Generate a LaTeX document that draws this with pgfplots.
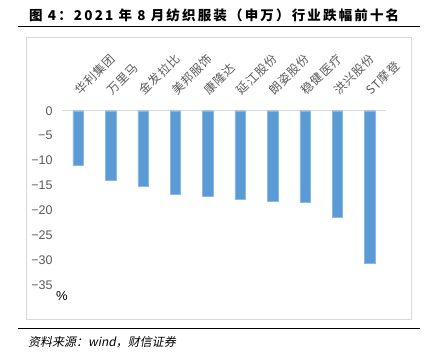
\documentclass[border=0pt]{standalone}
\usepackage{pgfplots}
\pgfplotsset{compat=1.18}
\usepackage{fontspec}
\setmainfont{Liberation Sans}
\newfontfamily\cjk{Noto Sans CJK SC}
\newfontfamily\cjkit[FakeSlant=0.2]{Noto Sans CJK SC}
\newfontfamily\cjksp[LetterSpace=8]{Noto Sans CJK SC}
\newfontfamily\cjktitle[LetterSpace=16]{Noto Sans CJK SC}
\definecolor{barblue}{HTML}{5B9BD5}
\definecolor{ticktext}{HTML}{595959}
\definecolor{boxgray}{HTML}{D9D9D9}
\begin{document}
\begin{tikzpicture}[x=1bp,y=1bp]
\path (0,0) rectangle (433,356);
% title
\node[anchor=west,inner sep=0pt] at (29,341) {\fontsize{13.5bp}{15bp}\cjktitle\bfseries 图 4：2021 年 8 月纺织服装（申万）行业跌幅前十名};
\draw[line width=1.6bp] (18,329.5) -- (420,329.5);
\draw[boxgray,line width=0.8bp] (26,319) rectangle (411,37);
\draw[line width=1.2bp] (18,27.5) -- (420,27.5);
\node[anchor=west,inner sep=0pt] at (28,14) {\fontsize{12bp}{14bp}\cjkit 资料来源：wind，财信证券};
\begin{axis}[
  at={(62bp,71bp)}, anchor=south west,
  scale only axis, width=324bp, height=174.3bp,
  xmin=-0.5, xmax=9.5, ymin=-35, ymax=0,
  axis x line*=top, axis y line*=left,
  x axis line style={-, draw=boxgray, line width=0.8bp},
  y axis line style={draw=none},
  major tick length=0pt,
  xtick={0,...,9},
  xticklabels={华利集团,万里马,金发拉比,美邦服饰,康隆达,延江股份,朗姿股份,稳健医疗,洪兴股份,ST摩登},
  xticklabel style={xshift=2.5bp, yshift=14bp, font=\fontsize{12bp}{13bp}\cjksp, text=ticktext, rotate=45, anchor=south west, inner sep=0pt},
  ytick={-35,-30,...,0},
  yticklabels={−35,−30,−25,−20,−15,−10,−5,0},
  yticklabel style={xshift=-6bp, font=\fontsize{12.5bp}{14bp}\selectfont, text=ticktext},
  clip=false,
]
\addplot[ybar, bar width=10.5bp, fill=barblue, draw=barblue!70!white, line width=0.4bp] coordinates {
(0,-11.0) (1,-13.9) (2,-15.1) (3,-16.8) (4,-17.1) (5,-17.8) (6,-18.2) (7,-18.3) (8,-21.4) (9,-30.6)
};
\end{axis}
\node[inner sep=0pt] at (62,60) {\fontsize{13bp}{15bp}\selectfont \%};
\end{tikzpicture}
\end{document}
